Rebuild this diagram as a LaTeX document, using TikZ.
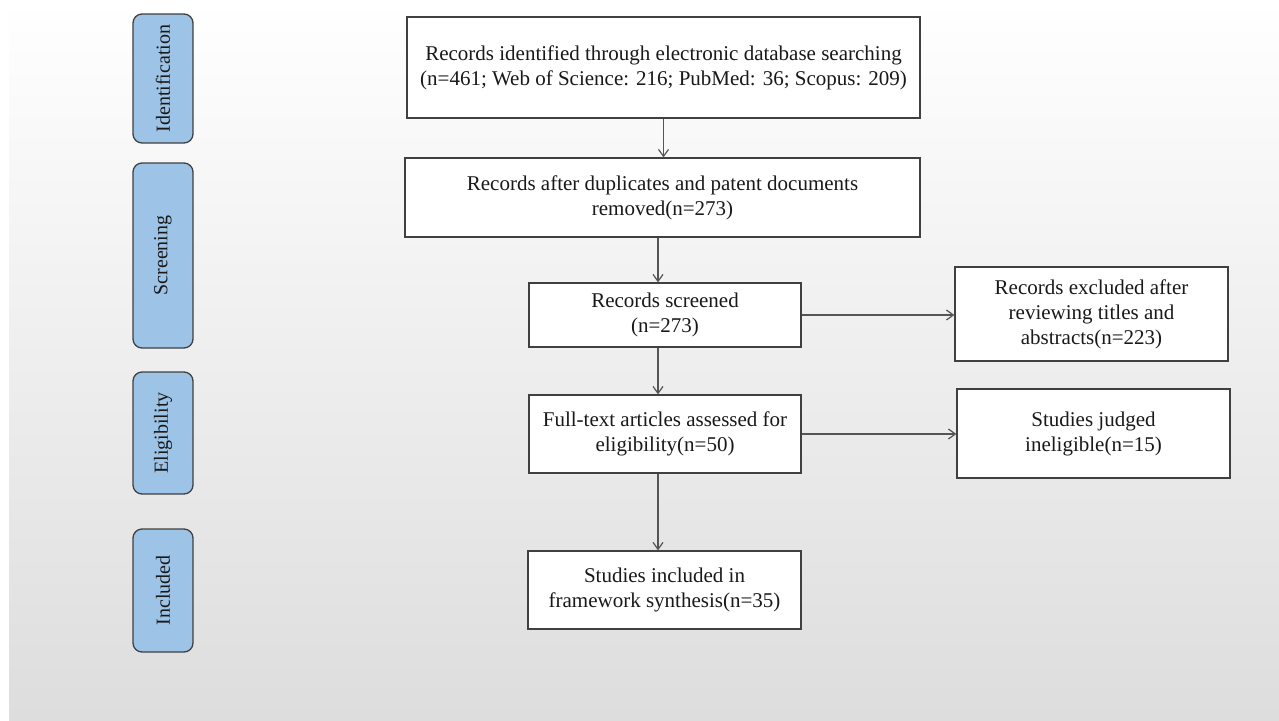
\documentclass[tikz,border=0pt]{standalone}
\usepackage{fontspec}
\setmainfont{Liberation Serif}
\usetikzlibrary{arrows.meta}
\definecolor{lanefill}{RGB}{157,195,230}
\definecolor{edgegray}{RGB}{64,64,64}
\definecolor{arrowgray}{RGB}{85,85,85}
\definecolor{bgbottom}{RGB}{221,221,221}
\begin{document}
\begin{tikzpicture}[x=1pt,y=-1pt,
  stage/.style={draw=edgegray,fill=lanefill,line width=1.3pt,rounded corners=9pt,
    rotate=90,minimum height=60pt,inner sep=0pt,text=black!90,
    font=\fontsize{20}{24}\selectfont},
  box/.style={draw=edgegray,fill=white,line width=1.2pt,inner sep=0pt,align=center,
    text=black!90,font=\fontsize{21}{25}\selectfont},
  flow/.style={draw=arrowgray,line width=1.2pt,-{Straight Barb[length=7pt,width=10pt]}}]
\useasboundingbox (0,0) rectangle (1279,720);
\shade[top color=white,bottom color=bgbottom] (9,0) rectangle (1279,720);
% stages on the left
\node[stage,minimum width=129pt] (ident) at (163,78.5) {Identification};
\node[stage,minimum width=185pt] (screen) at (163,255.5) {Screening};
\node[stage,minimum width=122pt] (elig) at (163,433) {Eligibility};
\node[stage,minimum width=123pt] (incl) at (163,590.5) {Included};
%
\node[box,minimum width=513pt,minimum height=101pt] (found) at (663.5,67.5)
  {Records identified through electronic database searching\\(n=461; Web of Science: 216; PubMed: 36; Scopus: 209)};
\node[box,minimum width=515pt,minimum height=79pt] (dedup) at (662.5,197.5)
  {Records after duplicates and patent documents\\removed(n=273)};
\node[box,minimum width=272pt,minimum height=64pt] (scrn) at (665,315)
  {Records screened\\(n=273)};
\node[box,minimum width=273pt,minimum height=94pt] (excl) at (1091.5,314)
  {Records excluded after\\reviewing titles and\\abstracts(n=223)};
\node[box,minimum width=272pt,minimum height=78pt] (full) at (665,434)
  {Full-text articles assessed for\\eligibility(n=50)};
\node[box,minimum width=273pt,minimum height=89pt] (inelig) at (1093.5,433.5)
  {Studies judged\\ineligible(n=15)};
\node[box,minimum width=273pt,minimum height=78pt] (synth) at (664.5,590)
  {Studies included in\\framework synthesis(n=35)};
%
\coordinate (spine) at (658,0);
\draw[flow] (found.south) -- (found.south |- dedup.north);
\draw[flow] (dedup.south -| spine) -- (scrn.north -| spine);
\draw[flow] (scrn.south -| spine) -- (full.north -| spine);
\draw[flow] (full.south -| spine) -- (synth.north -| spine);
\draw[flow] (scrn.east) -- (scrn.east -| excl.west);
\draw[flow] (full.east) -- (full.east -| inelig.west);
\end{tikzpicture}
\end{document}
